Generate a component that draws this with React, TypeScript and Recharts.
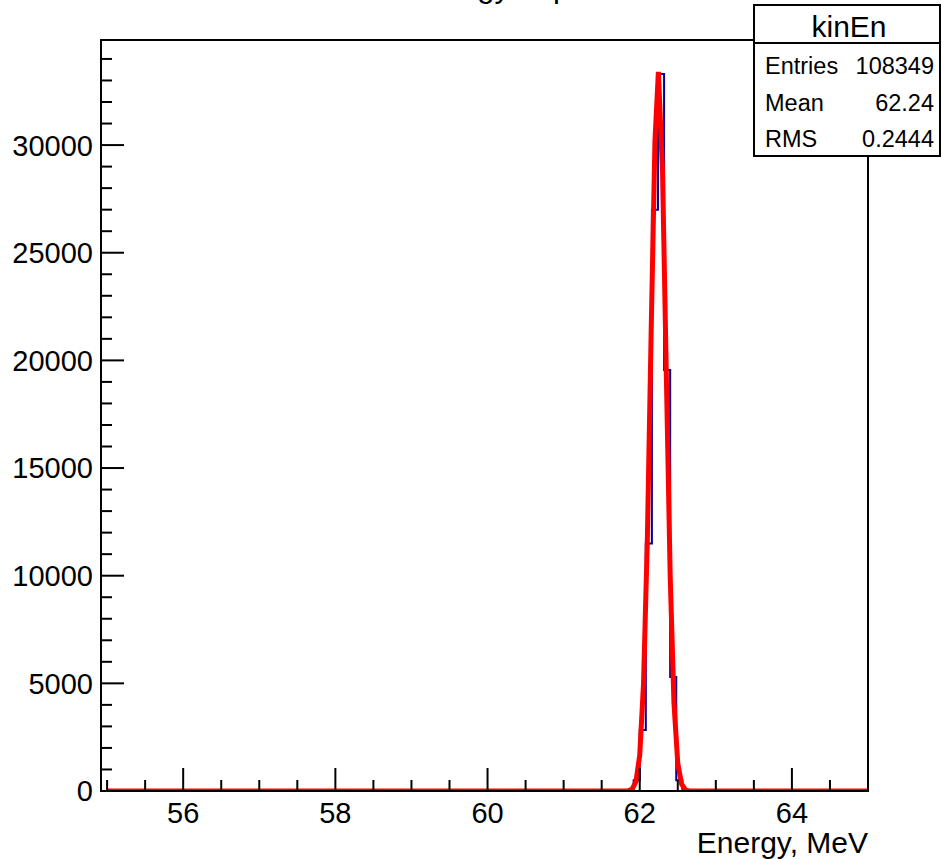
import { Line, LineChart, XAxis, YAxis } from "recharts";

// histogram bins: left edge (MeV) and counts
const binEdges = [54.92, 61.92, 62.0, 62.08, 62.16, 62.24, 62.32, 62.4, 62.48, 62.56, 65];
const binCounts = [0, 500, 2830, 11500, 27000, 33300, 19550, 5300, 500, 0, 0];

// gaussian fit curve
const fitX = [55, 61.8, 61.85, 61.9, 61.95, 62.0, 62.05, 62.1, 62.15, 62.2, 62.245, 62.3, 62.35, 62.4, 62.45, 62.5, 62.55, 62.6, 62.65, 65];
const fitY = [0, 0, 14, 87, 430, 1660, 4990, 11670, 21270, 30190, 33400, 28710, 19250, 10040, 4080, 1290, 320, 60, 0, 0];

const xMajor = [56, 58, 60, 62, 64];
const xMinor = [55, 55.5, 56.5, 57, 57.5, 58.5, 59, 59.5, 60.5, 61, 61.5, 62.5, 63, 63.5, 64.5];
const yMajor = [0, 5000, 10000, 15000, 20000, 25000, 30000];
const yAll = Array.from({ length: 35 }, (_, i) => i * 1000);

const stats = [
  { label: "Entries", value: "108349" },
  { label: "Mean", value: "62.24" },
  { label: "RMS", value: "0.2444" },
];

const histData = binEdges.map((x, i) => ({ x, y: binCounts[i] }));
const fitData = fitX.map((x, i) => ({ x, y: fitY[i] }));

const W = 942;
const H = 859;
const LEFT = 101;
const RIGHT = 868;
const TOP = 40;
const BOTTOM = 791;
const FONT = `"Liberation Sans", Arial, Helvetica, sans-serif`;

const XTick = (props: any) => {
  const { x, payload } = props;
  const major = xMajor.includes(payload.value);
  return (
    <g>
      <line x1={x} x2={x} y1={BOTTOM} y2={BOTTOM - (major ? 23 : 11)} stroke="#000" strokeWidth={2} />
      {major && (
        <text x={x} y={823} textAnchor="middle" fontSize={29} fontFamily={FONT} fill="#000">
          {payload.value}
        </text>
      )}
    </g>
  );
};

const YTick = (props: any) => {
  const { y, payload } = props;
  const major = yMajor.includes(payload.value);
  return (
    <g>
      <line x1={LEFT} x2={LEFT + (major ? 23 : 11)} y1={y} y2={y} stroke="#000" strokeWidth={2} />
      {major && (
        <text x={93} y={y} dy="0.36em" textAnchor="end" fontSize={29} fontFamily={FONT} fill="#000">
          {payload.value}
        </text>
      )}
    </g>
  );
};

export default function App() {
  return (
    <div style={{ position: "absolute", left: 0, top: 0, width: W, height: H, background: "#fff", overflow: "hidden" }}>
      <LineChart
        width={W}
        height={H}
        margin={{ top: TOP, right: W - RIGHT, bottom: H - BOTTOM - 40, left: LEFT - 60 }}
      >
        <XAxis
          type="number"
          dataKey="x"
          domain={[54.92, 65]}
          ticks={[...xMinor, ...xMajor].sort((a, b) => a - b)}
          tick={<XTick />}
          tickLine={false}
          axisLine={false}
          height={40}
          allowDataOverflow
          interval={0}
        />
        <YAxis
          type="number"
          domain={[0, 34880]}
          ticks={yAll}
          tick={<YTick />}
          tickLine={false}
          axisLine={false}
          width={60}
          allowDataOverflow
          interval={0}
        />
        <Line
          data={histData}
          dataKey="y"
          type="stepAfter"
          stroke="#00009c"
          strokeWidth={2}
          dot={false}
          isAnimationActive={false}
        />
        <Line
          data={fitData}
          dataKey="y"
          type="linear"
          stroke="#ff0000"
          strokeWidth={5}
          dot={false}
          isAnimationActive={false}
        />
      </LineChart>
      <svg
        width={W}
        height={H}
        style={{ position: "absolute", left: 0, top: 0, pointerEvents: "none" }}
        fontFamily={FONT}
      >
        <rect x={LEFT} y={TOP} width={RIGHT - LEFT} height={BOTTOM - TOP} fill="none" stroke="#000" strokeWidth={2} />
        <text x={485} y={-3} textAnchor="middle" fontSize={31} fill="#000">
          Kinetic energy of protons
        </text>
        <text x={-6} y={400} transform="rotate(-90 -6 400)" textAnchor="middle" fontSize={28} fill="#000">
          Counts
        </text>
        <text x={RIGHT} y={853} textAnchor="end" fontSize={30} fill="#000">
          Energy, MeV
        </text>
        <rect x={754} y={5} width={186} height={151} fill="#fff" stroke="#000" strokeWidth={2} />
        <line x1={754} x2={940} y1={43} y2={43} stroke="#000" strokeWidth={2} />
        <text x={849} y={37} textAnchor="middle" fontSize={30} fill="#000">
          kinEn
        </text>
        {stats.map((s, i) => (
          <g key={s.label}>
            <text x={765} y={74 + i * 36.5} fontSize={23.5} fill="#000">
              {s.label}
            </text>
            <text x={934} y={74 + i * 36.5} textAnchor="end" fontSize={23.5} fill="#000">
              {s.value}
            </text>
          </g>
        ))}
      </svg>
    </div>
  );
}
